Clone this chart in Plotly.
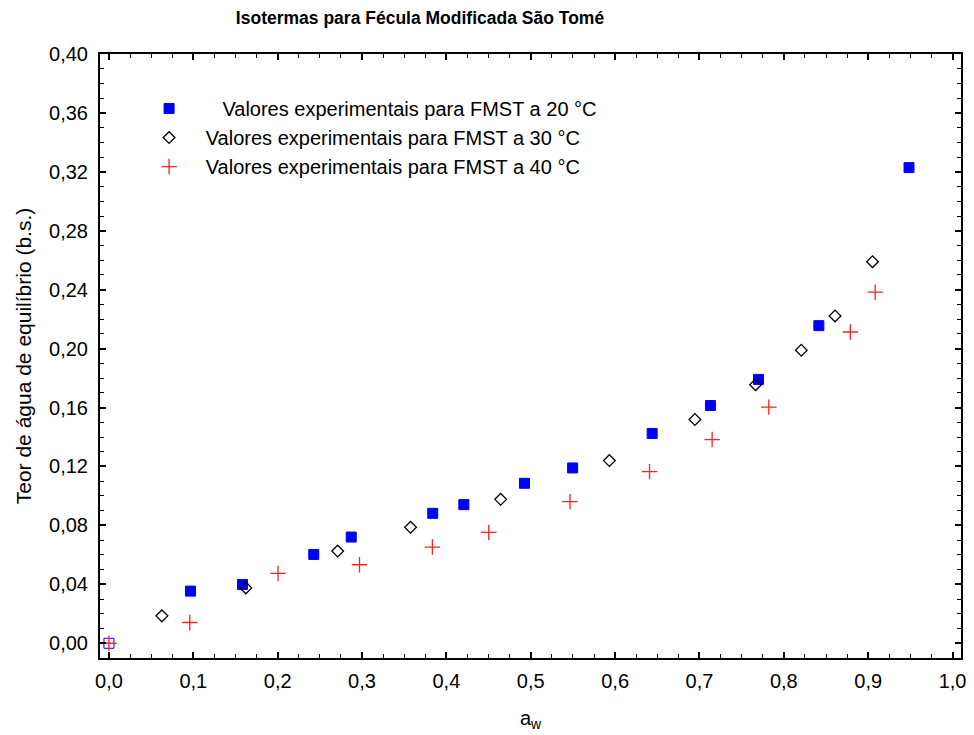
import plotly.graph_objects as go

# Water activity (a_w) and equilibrium moisture content (dry basis) per temperature
aw_20 = [0.0966, 0.1583, 0.2428, 0.2872, 0.3838, 0.4207, 0.4926, 0.5496, 0.6439, 0.7130, 0.7700, 0.8415, 0.9484, 0.0]
x_20 = [0.0354, 0.0399, 0.0603, 0.0721, 0.0882, 0.0941, 0.1086, 0.1190, 0.1424, 0.1614, 0.1791, 0.2156, 0.3229, 0.0]

aw_30 = [0.0628, 0.1623, 0.2711, 0.3575, 0.4643, 0.5932, 0.6946, 0.7665, 0.8207, 0.8607, 0.9051]
x_30 = [0.0186, 0.0376, 0.0626, 0.0787, 0.0977, 0.1240, 0.1519, 0.1755, 0.1989, 0.2222, 0.2590]

aw_40 = [0.0, 0.0958, 0.2004, 0.2970, 0.3834, 0.4502, 0.5465, 0.6408, 0.7150, 0.7822, 0.8788, 0.9083]
x_40 = [0.0, 0.0141, 0.0474, 0.0533, 0.0653, 0.0753, 0.0961, 0.1165, 0.1383, 0.1603, 0.2113, 0.2383]

x_ticks = [i / 10 for i in range(11)]
x_tick_labels = ["0,0", "0,1", "0,2", "0,3", "0,4", "0,5", "0,6", "0,7", "0,8", "0,9", "1,0"]
y_ticks = [i * 0.04 for i in range(11)]
y_tick_labels = ["0,00", "0,04", "0,08", "0,12", "0,16", "0,20", "0,24", "0,28", "0,32", "0,36", "0,40"]

FONT = "Liberation Sans, Arial, sans-serif"
NB = "\u00a0"

fig = go.Figure()

# the origin point (last) of the 20 °C series is drawn open
sym_20 = ["square"] * (len(aw_20) - 1) + ["square-open"]

fig.add_trace(go.Scatter(
    x=aw_20, y=x_20, mode="markers",
    name=NB * 6 + "Valores experimentais para FMST a 20 °C",
    marker=dict(symbol=sym_20, size=10, color="#0000ff",
                line=dict(color="#0000ff", width=1)),
))
fig.add_trace(go.Scatter(
    x=aw_30, y=x_30, mode="markers",
    name=NB * 3 + "Valores experimentais para FMST a 30 °C",
    marker=dict(symbol="diamond-open", size=9, color="#000000",
                line=dict(color="#000000", width=1.3)),
))
fig.add_trace(go.Scatter(
    x=aw_40, y=x_40, mode="markers",
    name=NB * 3 + "Valores experimentais para FMST a 40 °C",
    marker=dict(symbol="cross-thin", size=11, color="#ff2020",
                line=dict(color="#ff2020", width=1.3)),
))

axis_common = dict(
    showline=True, linecolor="black", linewidth=2, mirror="allticks",
    ticks="inside", ticklen=6, tickwidth=1.5, tickcolor="black",
    showgrid=False, zeroline=False,
    tickfont=dict(family=FONT, size=20, color="black"),
)

fig.update_xaxes(
    range=[-0.0106, 1.010], tickvals=x_ticks, ticktext=x_tick_labels,
    minor=dict(dtick=0.025, tick0=0, ticks="inside", ticklen=4, tickcolor="black", tickwidth=1.2),
    ticklabelstandoff=4,
    title=dict(text="a<sub>w</sub>", font=dict(family=FONT, size=20, color="black"), standoff=20),
    **axis_common,
)
fig.update_yaxes(
    range=[-0.01, 0.40], tickvals=y_ticks, ticktext=y_tick_labels,
    minor=dict(dtick=0.01, tick0=0, ticks="inside", ticklen=4, tickcolor="black", tickwidth=1.2),
    ticklabelstandoff=6,
    title=dict(text="Teor de água de equilíbrio (b.s.)", font=dict(family=FONT, size=21, color="black"), standoff=12),
    **axis_common,
)

fig.update_layout(
    width=974, height=735,
    margin=dict(l=100, r=8, t=54, b=77),
    paper_bgcolor="white", plot_bgcolor="white",
    title=dict(text="<b>Isotermas para Fécula Modificada São Tomé</b>",
               x=420 / 974, xanchor="center", xref="container",
               y=1 - 18 / 735, yanchor="middle", yref="container",
               font=dict(family=FONT, size=17.5, color="black")),
    legend=dict(x=0.057, y=0.942, xanchor="left", yanchor="top",
                bgcolor="rgba(0,0,0,0)", borderwidth=0,
                font=dict(family=FONT, size=20, color="black"),
                itemsizing="trace", tracegroupgap=4),
    showlegend=True,
)

fig.write_html("out.html")
